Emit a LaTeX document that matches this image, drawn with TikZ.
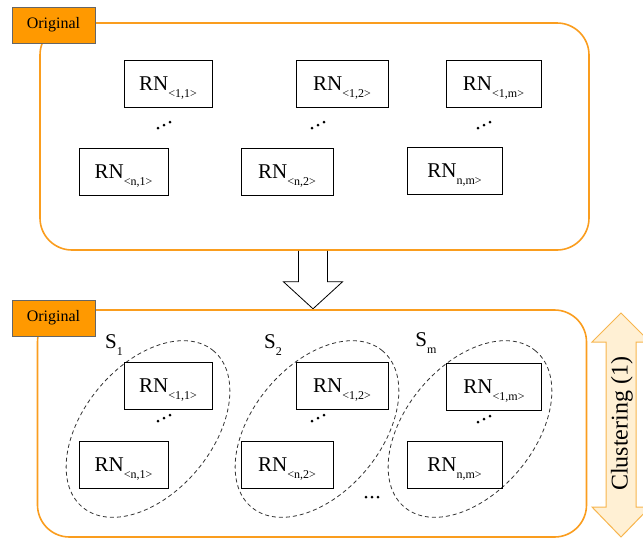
\documentclass[tikz,border=0pt]{standalone}
\usepackage{fontspec}
\setmainfont{Liberation Serif}
\usepackage{tikz}
\usepackage{xcolor}
\usetikzlibrary{shapes.geometric}
\definecolor{tagorange}{HTML}{FF9900}
\definecolor{lineorange}{HTML}{FA9D1E}
\definecolor{palefill}{HTML}{FFF0D4}
\definecolor{paleline}{HTML}{F7B54E}
\newcommand{\lowsub}[1]{\raisebox{-7pt}[0pt][0pt]{\fontsize{12}{12}\selectfont #1}}
\newcommand{\updots}[1]{\fill (#1) ++(-6,3) circle (1.5pt) ++(6,-3) circle (1.5pt) ++(6,-3) circle (1.5pt);}

\begin{document}
\begin{tikzpicture}[x=1pt,y=-1pt,
    container/.style={draw=lineorange, line width=1.6pt, rounded corners=32pt, minimum width=549pt, minimum height=227pt},
    tag/.style={draw=black!60, fill=tagorange, line width=0.8pt, minimum width=83pt, minimum height=36pt, inner sep=0pt, font=\fontsize{16}{16}\selectfont},
    rnbox/.style={draw, line width=0.9pt, minimum width=#1, minimum height=47pt, inner sep=0pt, font=\fontsize{21}{21}\selectfont},
    cluster/.style={ellipse, draw=black!80, dash pattern=on 4pt off 3pt, line width=0.8pt, minimum width=204pt, minimum height=128pt, rotate=50, inner sep=0pt},
    setlabel/.style={inner sep=0pt, font=\fontsize{21}{21}\selectfont}]
                \clip (0,0) rectangle (643,539);
                % top: original set of nodes
                \node[container] (orig) at (314.5,136.5) {};
                \node[tag] (origtag) at (53.5,25) {Original};
                \node[rnbox=88pt] (t11) at (168,83.5) {RN\lowsub{<1,1>}};
                \node[rnbox=92pt] (t12) at (342,83.5) {RN\lowsub{<1,2>}};
                \node[rnbox=95pt] (t1m) at (493.5,83.5) {RN\lowsub{<1,m>}};
                \node[rnbox=89pt] (tn1) at (123.5,171.5) {RN\lowsub{<n,1>}};
                \node[rnbox=92pt] (tn2) at (287,171.5) {RN\lowsub{<n,2>}};
                \node[rnbox=95pt] (tnm) at (454.5,171) {RN\lowsub{n,m>}};
                \coordinate (td1) at (164,125);
                \coordinate (td2) at (318,125);
                \coordinate (td3) at (484,125);
                \updots{td1} \updots{td2} \updots{td3}
                % hollow arrow down
                \draw[line width=0.8pt] (orig.south) ++(-16,0) -- ++(0,31) -- ++(-15,0) -- ++(29.5,27) -- ++(29.5,-27) -- ++(-15,0) -- ++(0,-31);
                % bottom: clustered nodes
                \node[container] (clus) at (312,423.5) {};
                \node[tag] (clustag) at (53.5,318) {Original};
                \node[cluster] (s1) at (148,429) {};
                \node[cluster] (s2) at (317,429) {};
                \node[cluster] (sm) at (470,429) {};
                \node[setlabel] (s1lab) at (114,342) {S\lowsub{1}};
                \node[setlabel] (s2lab) at (273,342) {S\lowsub{2}};
                \node[setlabel] (smlab) at (426,340) {S\lowsub{m}};
                \node[rnbox=88pt] (b11) at (168,386) {RN\lowsub{<1,1>}};
                \node[rnbox=92pt] (b12) at (342,386) {RN\lowsub{<1,2>}};
                \node[rnbox=95pt] (b1m) at (494,386.5) {RN\lowsub{<1,m>}};
                \node[rnbox=89pt] (bn1) at (123.5,464.5) {RN\lowsub{<n,1>}};
                \node[rnbox=92pt] (bn2) at (287,464.5) {RN\lowsub{<n,2>}};
                \node[rnbox=95pt] (bnm) at (454.5,464.5) {RN\lowsub{n,m>}};
                \coordinate (bd1) at (164,418);
                \coordinate (bd2) at (318,418);
                \coordinate (bd3) at (484,419);
                \updots{bd1} \updots{bd2} \updots{bd3}
                \coordinate (bdots) at (372,497);
                \fill (bdots) ++(-6,0) circle (1.5pt) ++(6,0) circle (1.5pt) ++(6,0) circle (1.5pt);
                % clustering arrow
                \draw[draw=paleline, fill=palefill, line width=1pt] (621,313) -- (650,342) -- (636,342) -- (636,507) -- (650,507) -- (621,537) -- (592,507) -- (606,507) -- (606,342) -- (592,342) -- cycle;
                \node[rotate=90, inner sep=0pt, font=\fontsize{24}{24}\selectfont] (clustext) at (622,424) {Clustering (1)};
            \end{tikzpicture}
\end{document}
